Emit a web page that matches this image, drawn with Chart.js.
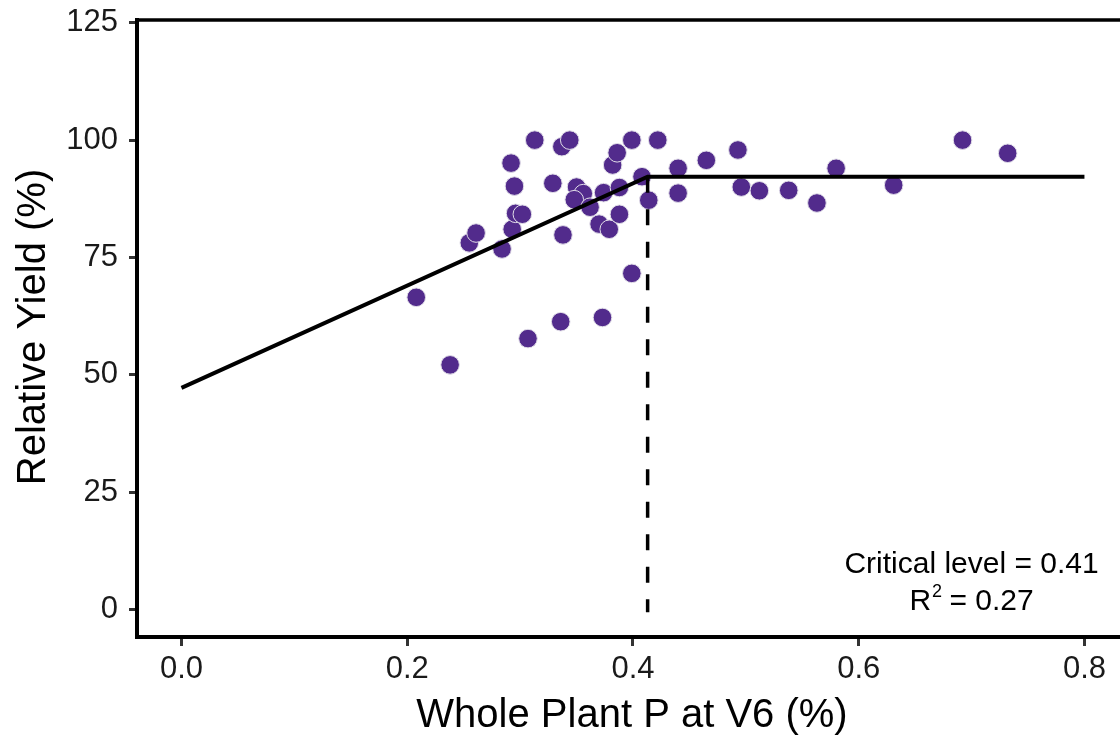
<!DOCTYPE html>
<html>
<head>
<meta charset="utf-8">
<script src="https://cdn.jsdelivr.net/npm/chart.js@4.4.1/dist/chart.umd.min.js"></script>
<style>
  html, body { margin: 0; padding: 0; background: #ffffff; overflow: hidden; }
  #wrap { width: 1120px; height: 738px; position: relative; }
</style>
</head>
<body>
<div id="wrap"><canvas id="c" width="1120" height="738"></canvas></div>
<script>
// ---- data ----
const plantP = [0.208, 0.238, 0.255, 0.261, 0.284, 0.292, 0.295, 0.293, 0.296, 0.302,
                0.307, 0.313, 0.329, 0.337, 0.344, 0.336, 0.338, 0.350, 0.356, 0.348,
                0.362, 0.370, 0.373, 0.374, 0.379, 0.382, 0.386, 0.388, 0.388, 0.399,
                0.399, 0.408, 0.414, 0.422, 0.440, 0.440, 0.465, 0.493, 0.496, 0.512,
                0.538, 0.563, 0.580, 0.631, 0.692, 0.732];
const relYield = [66.5, 52.1, 78.1, 80.2, 76.8, 95.1, 90.2, 81.0, 84.4, 84.2,
                  57.7, 100.0, 90.8, 98.6, 100.0, 61.3, 79.8, 90.0, 88.6, 87.3,
                  85.7, 82.1, 62.2, 88.8, 81.0, 94.7, 97.3, 89.9, 84.2, 100.0,
                  71.6, 92.2, 87.2, 100.0, 94.0, 88.7, 95.7, 97.9, 90.0, 89.2,
                  89.3, 86.6, 94.0, 90.4, 100.0, 97.2];
const fitX = [0.0, 0.413, 0.8];
const fitY = [47.2, 92.2, 92.2];
const criticalX = [0.413, 0.413];
const criticalY = [92.2, -0.6];
const xTicks = [0.0, 0.2, 0.4, 0.6, 0.8];
const yTicks = [0, 25, 50, 75, 100, 125];
const annotationLine1 = "Critical level = 0.41";
const annotationR = "R";
const annotationSup = "2";
const annotationRest = " = 0.27";
const xTitle = "Whole Plant P at V6 (%)";
const yTitle = "Relative Yield (%)";

const FONT = "'Liberation Sans', Arial, Helvetica, sans-serif";

const scatterPts = plantP.map((x, i) => ({ x: x, y: relYield[i] }));
const fitPts = fitX.map((x, i) => ({ x: x, y: fitY[i] }));
const critPts = criticalX.map((x, i) => ({ x: x, y: criticalY[i] }));

const framePlugin = {
  id: 'frame',
  afterDraw(chart) {
    const { ctx, chartArea, scales } = chart;
    ctx.save();
    // top frame line
    ctx.strokeStyle = '#000';
    ctx.lineWidth = 3.5;
    ctx.beginPath();
    ctx.moveTo(chartArea.left - 2, chartArea.top);
    ctx.lineTo(chartArea.right, chartArea.top);
    ctx.stroke();

    ctx.fillStyle = '#000';
    // axis titles
    ctx.font = "40px " + FONT;
    ctx.textAlign = 'center';
    ctx.textBaseline = 'alphabetic';
    ctx.fillText(xTitle, 632, 727);
    ctx.save();
    ctx.translate(45, 327);
    ctx.rotate(-Math.PI / 2);
    ctx.fillText(yTitle, 0, 0);
    ctx.restore();

    // annotation
    const cx = scales.x.getPixelForValue(0.70);
    const y1 = scales.y.getPixelForValue(7.7);
    const y2 = scales.y.getPixelForValue(-0.15);
    ctx.font = "30px " + FONT;
    ctx.textAlign = 'center';
    ctx.fillText(annotationLine1, cx, y1);
    ctx.textAlign = 'left';
    const wR = ctx.measureText(annotationR).width;
    const wRest = ctx.measureText(annotationRest).width;
    ctx.font = "18px " + FONT;
    const wSup = ctx.measureText(annotationSup).width;
    const total = wR + wSup + wRest;
    const sx = cx - total / 2;
    ctx.font = "30px " + FONT;
    ctx.fillText(annotationR, sx, y2);
    ctx.font = "18px " + FONT;
    ctx.fillText(annotationSup, sx + wR + 1, y2 - 13);
    ctx.font = "30px " + FONT;
    ctx.fillText(annotationRest, sx + wR + wSup, y2);
    ctx.restore();
  }
};

new Chart(document.getElementById('c'), {
  type: 'scatter',
  data: {
    datasets: [
      {
        type: 'line',
        data: fitPts,
        borderColor: '#000',
        borderWidth: 4,
        pointRadius: 0,
        tension: 0,
        fill: false
      },
      {
        type: 'line',
        data: critPts,
        borderColor: '#000',
        borderWidth: 3.5,
        borderDash: [16, 16.5],
        pointRadius: 0,
        tension: 0,
        fill: false
      },
      {
        data: scatterPts,
        backgroundColor: '#522B8C',
        borderColor: 'rgba(225,222,232,1)',
        borderWidth: 1,
        pointRadius: 9.3,
        pointHoverRadius: 9.3
      }
    ]
  },
  options: {
    responsive: false,
    animation: false,
    events: [],
    layout: { autoPadding: false, padding: { top: 20, right: 0, left: 0, bottom: 0 } },
    plugins: { legend: { display: false }, tooltip: { enabled: false } },
    scales: {
      x: {
        type: 'linear',
        min: -0.0394,
        max: 0.8315,
        afterFit(scale) { scale.height = 101; scale.paddingLeft = 0; scale.paddingRight = 0; },
        afterBuildTicks(scale) { scale.ticks = xTicks.map(v => ({ value: v })); },
        ticks: {
          color: '#1a1a1a',
          font: { family: FONT, size: 31 },
          padding: 5,
          maxRotation: 0,
          autoSkip: false,
          callback: v => Number(v).toFixed(1)
        },
        grid: { display: true, drawOnChartArea: false, drawTicks: true, tickLength: 9, tickWidth: 3, tickColor: '#333' },
        border: { display: true, color: '#000', width: 4 },
        title: { display: false }
      },
      y: {
        type: 'linear',
        min: -5.9,
        max: 125.6,
        afterFit(scale) { scale.width = 137; scale.paddingTop = 0; scale.paddingBottom = 0; },
        afterBuildTicks(scale) { scale.ticks = yTicks.map(v => ({ value: v })); },
        ticks: {
          color: '#1a1a1a',
          font: { family: FONT, size: 31 },
          padding: 11,
          autoSkip: false,
          callback: v => String(v)
        },
        grid: { display: true, drawOnChartArea: false, drawTicks: true, tickLength: 8, tickWidth: 3, tickColor: '#333' },
        border: { display: true, color: '#000', width: 4 },
        title: { display: false }
      }
    }
  },
  plugins: [framePlugin]
});
</script>
</body>
</html>
